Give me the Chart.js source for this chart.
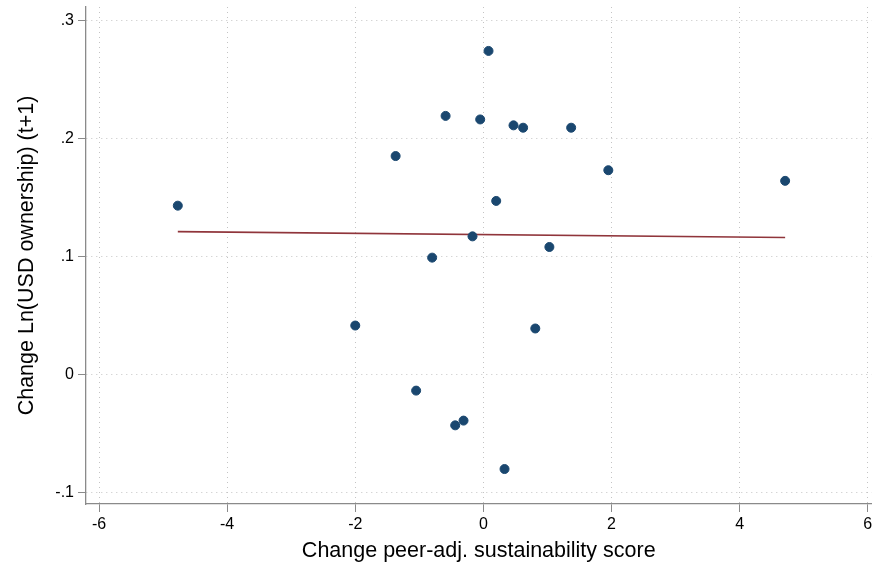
<!DOCTYPE html>
<html><head><meta charset="utf-8">
<script src="https://cdn.jsdelivr.net/npm/chart.js@4"></script>
<style>html,body{margin:0;padding:0;background:#fff}#wrap{width:877px;height:571px}</style>
</head><body><div id="wrap"><canvas id="c" width="877" height="571"></canvas></div>
<script>
const xValues = [-4.77, -2.00, -1.37, -1.05, -0.80, -0.59, -0.44, -0.31, -0.17, -0.05, 0.08, 0.20, 0.33, 0.47, 0.62, 0.81, 1.03, 1.37, 1.95, 4.71];
const yValues = [0.143, 0.0415, 0.185, -0.0136, 0.099, 0.219, -0.043, -0.039, 0.117, 0.216, 0.274, 0.147, -0.080, 0.211, 0.209, 0.039, 0.108, 0.209, 0.173, 0.164];
const fitX = [-4.77, 4.71];
const fitY = [0.121, 0.116];
const xTicks = [-6, -4, -2, 0, 2, 4, 6];
const yTicks = [-0.1, 0, 0.1, 0.2, 0.3];
const yTickLabels = ['-.1', '0', '.1', '.2', '.3'];

const points = xValues.map((x, i) => ({x, y: yValues[i]}));
const fit = fitX.map((x, i) => ({x, y: fitY[i]}));

const font = 'Liberation Sans, Arial, sans-serif';
const gridOpts = { color: '#c4c4c4', lineWidth: 1, tickLength: 8, tickColor: '#8a8a8a', tickBorderDash: [], tickWidth: 1 };
const borderOpts = { display: true, color: '#8a8a8a', width: 1.3, dash: [1, 4] };
new Chart(document.getElementById('c'), {
  type: 'scatter',
  data: { datasets: [
    { data: points, backgroundColor: '#1a476f', borderColor: '#1a476f', pointRadius: 4.5, pointHoverRadius: 4.5, order: 1 },
    { type: 'line', data: fit, borderColor: '#90353b', borderWidth: 1.6, pointRadius: 0, fill: false, order: 2 }
  ]},
  options: {
    responsive: false, animation: false,
    layout: { padding: { top: 7, right: 0, left: 0, bottom: 0 } },
    plugins: { legend: { display: false }, tooltip: { enabled: false } },
    scales: {
      x: {
        type: 'linear', min: -6.203, max: 6.058,
        afterBuildTicks: s => { s.ticks = xTicks.map(v => ({value: v})); },
        afterFit: s => { s.height = 67; s.paddingLeft = 0; s.paddingRight = 0; },
        grid: gridOpts,
        border: borderOpts,
        ticks: { color: '#000', font: { family: font, size: 16 }, padding: 3, maxRotation: 0 },
        title: { display: true, text: 'Change peer-adj. sustainability score', color: '#000', font: { family: font, size: 21.5 }, padding: { top: 0, bottom: 7 } }
      },
      y: {
        type: 'linear', min: -0.1096, max: 0.3112,
        afterBuildTicks: s => { s.ticks = yTicks.map(v => ({value: v})); },
        afterFit: s => { s.width = 86; s.paddingTop = 0; s.paddingBottom = 0; },
        grid: gridOpts,
        border: borderOpts,
        ticks: { color: '#000', font: { family: font, size: 16 }, padding: 4,
          callback: (v) => { const i = yTicks.findIndex(t => Math.abs(t - v) < 1e-9); return i >= 0 ? yTickLabels[i] : ''; } },
        title: { display: true, text: 'Change Ln(USD ownership) (t+1)', color: '#000', font: { family: font, size: 21.5 }, padding: { top: 14, bottom: 0 } }
      }
    }
  }
});
</script></body></html>
